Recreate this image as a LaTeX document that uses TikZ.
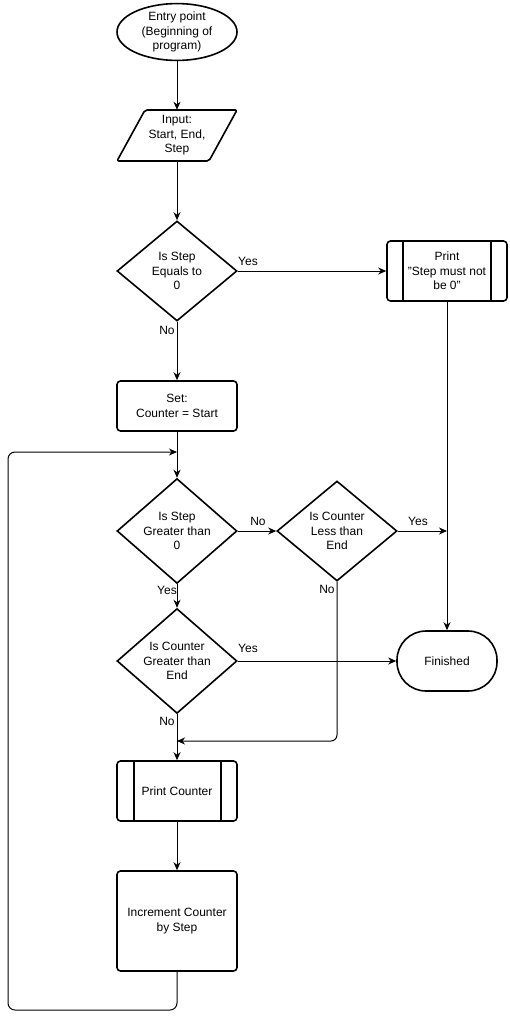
\documentclass[tikz,border=0pt]{standalone}
\usepackage{fontspec}
\setmainfont{Liberation Sans}
\usetikzlibrary{shapes.geometric,arrows.meta}
\begin{document}
\begin{tikzpicture}[x=1pt,y=-1pt,
  every node/.style={font=\fontsize{12}{14.5}\selectfont, align=center, inner sep=0pt},
  shp/.style={draw, line width=1.6pt},
  boxr/.style={shp, rectangle, rounded corners=3.5pt, minimum width=120pt},
  dia/.style={shp, diamond, minimum width=120pt, minimum height=100pt, line join=miter},
  conn/.style={line width=1pt, -{Stealth[length=8pt,width=7pt,inset=2.5pt]}},
  plain/.style={line width=1pt},
  lbl/.style={font=\fontsize{12}{14.5}\selectfont}
]
\useasboundingbox (0,0) rectangle (509,1020);

% entry
\node[shp, ellipse, minimum width=120pt, minimum height=56pt] (entry) at (177,32) {Entry point\\(Beginning of\\program)};

% input parallelogram
\node[minimum width=120pt, minimum height=51pt] (inp) at (177,135.5) {Input:\\Start, End,\\Step};
\draw[shp, rounded corners=2pt] (145,110) -- (237,110) -- (209,161) -- (117,161) -- cycle;

% diamond 1
\node[dia] (d1) at (177,271) {Is Step\\Equals to\\0};

% print error
\node[boxr, minimum height=60pt] (perr) at (447,271) {Print\\"Step must not\\be 0"};
\draw[shp] ([xshift=17pt]perr.north west) -- ([xshift=17pt]perr.south west);
\draw[shp] ([xshift=-17pt]perr.north east) -- ([xshift=-17pt]perr.south east);

% set
\node[boxr, minimum height=50pt] (set) at (177,406) {Set:\\Counter = Start};

% diamond 2
\node[dia] (d2) at (177,531) {Is Step\\Greater than\\0};
% diamond 3
\node[dia] (d3) at (337,531) {Is Counter\\Less than\\End};
% diamond 4
\node[dia] (d4) at (177,661) {Is Counter\\Greater than\\End};

% finished
\node[shp, rectangle, rounded corners=29pt, minimum width=100pt, minimum height=60pt] (fin) at (447,661) {Finished};

% print counter
\node[boxr, minimum height=60pt] (pc) at (177,791) {Print Counter};
\draw[shp] ([xshift=18pt]pc.north west) -- ([xshift=18pt]pc.south west);
\draw[shp] ([xshift=-17pt]pc.north east) -- ([xshift=-17pt]pc.south east);

% increment
\node[boxr, minimum height=100pt] (inc) at (177,921) {Increment Counter\\by Step};

% junction coordinates
\coordinate (j1) at (177,452);
\coordinate (j2) at (177,741);
\coordinate (j3) at (447,531);

% connectors
\draw[conn] (entry) -- (inp);
\draw[conn] (inp.south) -- (d1.north);
\draw[conn] (d1.east) -- (perr.west);
\draw[conn] (d1.south) -- (set.north);
\draw[conn] (perr.south) -- (fin.north);
\draw[conn] (set.south) -- (d2.north);
\draw[conn] (d2.east) -- (d3.west);
\draw[conn] (d3.east) -- (j3);
\draw[conn] (d2.south) -- (d4.north);
\draw[conn] (d4.east) -- (fin.west);
\draw[conn, rounded corners=6pt] (d3.south) -- (337,741) -- (j2);
\draw[conn] (d4.south) -- (pc.north);
\draw[conn] (pc.south) -- (inc.north);
\draw[conn, rounded corners=7pt] (inc.south) -- (177,1010) -- (8,1010) -- (8,452) -- (j1);

% labels
\node[lbl] at (248,261) {Yes};
\node[lbl] at (167,330) {No};
\node[lbl] at (258,521) {No};
\node[lbl] at (418,521) {Yes};
\node[lbl] at (167,590) {Yes};
\node[lbl] at (327,589) {No};
\node[lbl] at (248,648) {Yes};
\node[lbl] at (167,721) {No};
\end{tikzpicture}
\end{document}
